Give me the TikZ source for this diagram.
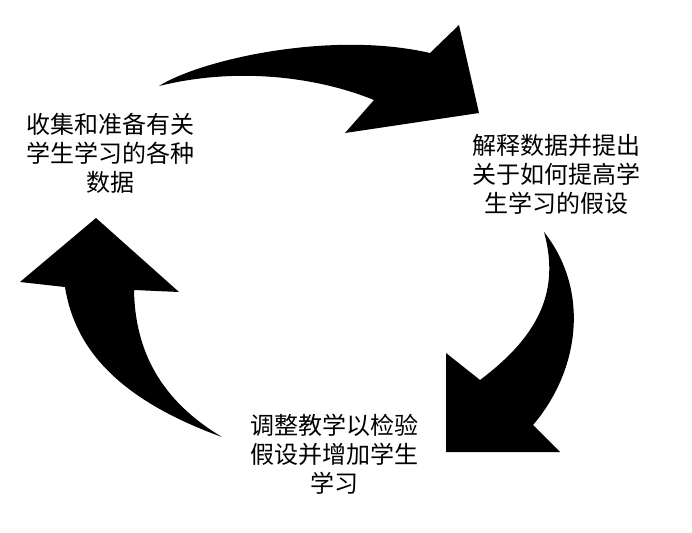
\documentclass[tikz,border=0pt]{standalone}
\usepackage{fontspec}
\setmainfont{Noto Sans CJK SC}
\begin{document}
\begin{tikzpicture}[x=1pt,y=-1pt,
  arr/.style={fill=black,draw=none},
  lbl/.style={align=center,font=\fontsize{24}{29}\selectfont,inner sep=0pt}]
\useasboundingbox (0,0) rectangle (692,532);
% top arrow
\path[arr] (159,86) .. controls (200,60) and (330,30) .. (430,53)
  -- (459,25) -- (479,113) -- (345,133) -- (374,100)
  .. controls (320,78) and (240,66) .. (159,86) -- cycle;
% right arrow
\path[arr] (544,232) .. controls (590,290) and (580,370) .. (533,425)
  -- (560,452) -- (446,452) -- (446,353) -- (480,380)
  .. controls (540,335) and (560,290) .. (544,232) -- cycle;
% left arrow
\path[arr] (222,437) .. controls (120,400) and (75,350) .. (65,287)
  -- (20,282) -- (96,218) -- (179,292) -- (134,290)
  .. controls (135,350) and (160,400) .. (222,437) -- cycle;
\node[lbl] (a) at (110,153) {收集和准备有关\\学生学习的各种\\数据};
\node[lbl] (b) at (556,174) {解释数据并提出\\关于如何提高学\\生学习的假设};
\node[lbl] (c) at (334,454) {调整教学以检验\\假设并增加学生\\学习};
\end{tikzpicture}
\end{document}
